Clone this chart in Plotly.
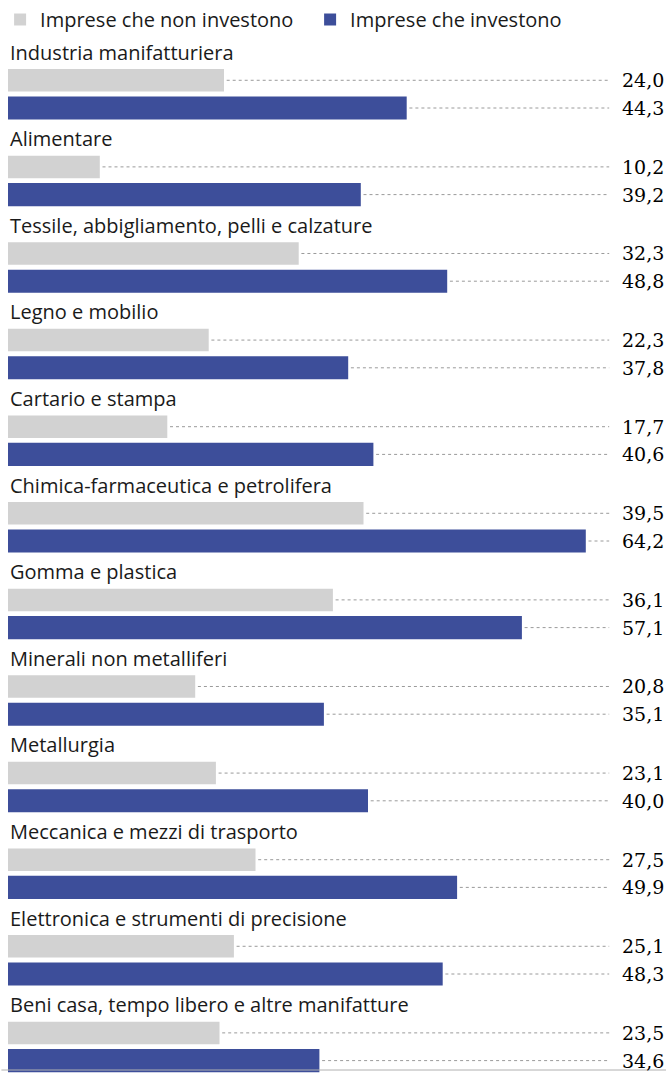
import plotly.graph_objects as go

categories = [
    "Industria manifatturiera",
    "Alimentare",
    "Tessile, abbigliamento, pelli e calzature",
    "Legno e mobilio",
    "Cartario e stampa",
    "Chimica-farmaceutica e petrolifera",
    "Gomma e plastica",
    "Minerali non metalliferi",
    "Metallurgia",
    "Meccanica e mezzi di trasporto",
    "Elettronica e strumenti di precisione",
    "Beni casa, tempo libero e altre manifatture",
]
non_investono = [24.0, 10.2, 32.3, 22.3, 17.7, 39.5, 36.1, 20.8, 23.1, 27.5, 25.1, 23.5]
investono = [44.3, 39.2, 48.8, 37.8, 40.6, 64.2, 57.1, 35.1, 40.0, 49.9, 48.3, 34.6]
series_names = ["Imprese che non investono", "Imprese che investono"]

LIGHT = "#d2d2d2"
DARK = "#3d4e9a"
W, H = 670, 1075
ML, MR = 8, 4
XMAX = (W - ML - MR) / 9.0
LEADER_END = 66.8
LABEL_FONT = "Open Sans"

n = len(categories)
y_label = [3 * i for i in range(n)]
y_light = [3 * i + 0.98 for i in range(n)]
y_dark = [3 * i + 1.94 for i in range(n)]

fig = go.Figure()
fig.add_trace(go.Bar(x=non_investono, y=y_light, orientation="h", width=0.78,
                     marker=dict(color=LIGHT, line=dict(width=0)), name=series_names[0],
                     hoverinfo="skip"))
fig.add_trace(go.Bar(x=investono, y=y_dark, orientation="h", width=0.8,
                     marker=dict(color=DARK, line=dict(width=0)), name=series_names[1],
                     hoverinfo="skip"))

# dotted leader lines
for vals, ys in ((non_investono, y_light), (investono, y_dark)):
    lx, ly = [], []
    for v, y in zip(vals, ys):
        lx += [v + 0.3, LEADER_END, None]
        ly += [y, y, None]
    fig.add_trace(go.Scatter(x=lx, y=ly, mode="lines", showlegend=False, hoverinfo="skip",
                             line=dict(color="#9a9a9a", width=1, dash="dot")))

annotations = []
for cat, y in zip(categories, y_label):
    annotations.append(dict(x=0, xref="paper", y=y, yref="y", text=cat, showarrow=False,
                            xanchor="left", yanchor="middle",
                            font=dict(family=LABEL_FONT, size=20, color="#1a1a1a")))
for vals, ys in ((non_investono, y_light), (investono, y_dark)):
    for v, y in zip(vals, ys):
        annotations.append(dict(x=1, xref="paper", y=y, yref="y",
                                text=f"{v:.1f}".replace(".", ","), showarrow=False,
                                xanchor="right", yanchor="middle",
                                font=dict(family="DejaVu Serif", size=19, color="#000000")))

px_per_unit = 86.6 / 3
top_px = 52
fig.update_layout(
    width=W, height=H,
    margin=dict(l=ML, r=MR, t=0, b=0),
    paper_bgcolor="white", plot_bgcolor="white",
    barmode="overlay",
    xaxis=dict(range=[0, XMAX], visible=False, fixedrange=True),
    yaxis=dict(range=[(H - top_px) / px_per_unit, -top_px / px_per_unit], visible=False,
               fixedrange=True),
    annotations=annotations,
    showlegend=True,
    legend=dict(orientation="h", x=-0.012, y=1.0002, xanchor="left", yanchor="top",
                entrywidth=265, entrywidthmode="pixels",
                font=dict(family=LABEL_FONT, size=20, color="#1a1a1a"),
                bgcolor="rgba(0,0,0,0)", traceorder="normal"),
    shapes=[dict(type="line", xref="paper", yref="paper", x0=-0.01, x1=1.0,
                 y0=5 / H, y1=5 / H, line=dict(color="#b0b0b0", width=1))],
)

fig.write_html("out.html", config={"displayModeBar": False},
               post_script="document.body.style.margin='0';document.body.style.overflow='hidden';")
